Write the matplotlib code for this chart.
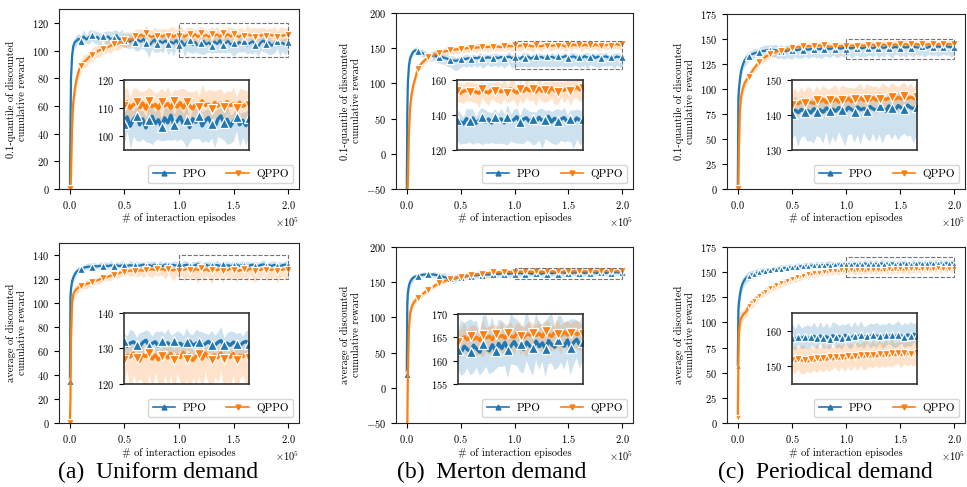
import matplotlib
matplotlib.use("Agg")
import matplotlib.pyplot as plt
from matplotlib.lines import Line2D
from matplotlib.patches import Rectangle
import numpy as np

plt.rcParams.update({
    'font.family': 'serif',
    'font.serif': ['cmr10'],
    'mathtext.fontset': 'cm',
    'axes.formatter.use_mathtext': True,
    'axes.unicode_minus': False,
})

# ---------------- data ----------------
# interaction episodes (thousands)
EPISODES_K = [0, 0.5, 1, 2, 3, 4.5, 6, 8,
              10, 12.5, 15, 17.5, 20, 22.5, 25, 27.5, 30, 32.5,
              35, 37.5, 40, 42.5, 45, 47.5, 50, 52.5, 55, 57.5,
              60, 62.5, 65, 67.5, 70, 72.5, 75, 77.5, 80, 82.5,
              85, 87.5, 90, 92.5, 95, 97.5, 100, 102.5, 105, 107.5,
              110, 112.5, 115, 117.5, 120, 122.5, 125, 127.5, 130, 132.5,
              135, 137.5, 140, 142.5, 145, 147.5, 150, 152.5, 155, 157.5,
              160, 162.5, 165, 167.5, 170, 172.5, 175, 177.5, 180, 182.5,
              185, 187.5, 190, 192.5, 195, 197.5, 200]

SERIES_NAMES = ["PPO", "QPPO"]
CAPTIONS = ["(a)  Uniform demand", "(b)  Merton demand", "(c)  Periodical demand"]
YLABELS = ["0.1-quantile of discounted\ncumulative reward",
           "average of discounted\ncumulative reward"]

# ---- (a) Uniform, 0.1-quantile ----
A_Q_PPO = [0, 45, 80, 96, 103, 106, 107, 108.5,
           106.7, 110.1, 108.0, 109.6, 111.0, 108.3, 109.9, 107.6, 110.5, 108.8,
           110.2, 107.9, 109.4, 111.1, 108.1, 109.2, 107.3, 108.9, 106.3, 108.1,
           105.9, 107.6, 106.4, 108.3, 105.2, 103.0, 105.8, 107.9, 104.6, 106.8,
           105.5, 107.2, 104.9, 106.3, 105.1, 107.4, 104.2, 106.8, 103.5, 105.9,
           107.3, 104.0, 106.1, 102.9, 105.6, 107.0, 104.4, 105.8, 103.2, 106.5,
           104.7, 107.4, 103.8, 105.3, 106.9, 104.1, 105.7, 103.0, 106.2, 104.9,
           107.1, 103.6, 105.4, 106.6, 104.3, 102.8, 105.9, 107.2, 104.5, 106.0,
           103.4, 105.2, 106.8, 104.0, 105.6, 103.7, 106.3]
A_Q_PPO_LO = [0, 5, 6, 5, 4, 4, 4, 4,
              3, 4, 3, 5, 4, 3, 5, 4, 3, 4,
              5, 4, 6, 5, 4, 6, 5, 7, 5, 6,
              6, 8, 5, 7, 6, 8, 5, 9, 6, 7,
              7, 5, 8, 6, 9, 6, 7, 5, 8, 6,
              9, 6, 7, 5, 8, 10, 6, 7, 5, 8,
              6, 9, 5, 7, 8, 6, 10, 5, 7, 6,
              8, 6, 7, 9, 5, 7, 6, 8, 6, 9,
              6, 7, 5, 8, 6, 7, 6]
A_Q_PPO_HI = [0, 5, 5, 5, 4, 4, 4, 4,
              4, 5, 3, 5, 4, 6, 4, 5, 3, 5,
              4, 6, 5, 4, 5, 6, 4, 5, 6, 4,
              5, 4, 6, 3, 5, 4, 5, 3, 6, 4,
              5, 3, 4, 6, 4, 3, 5, 4, 6, 3,
              4, 5, 3, 4, 6, 3, 4, 5, 3, 4,
              5, 3, 4, 5, 3, 4, 5, 3, 4, 5,
              3, 5, 4, 3, 5, 6, 4, 3, 4, 5,
              4, 3, 5, 4, 3, 5, 4]
A_Q_QPPO = [0, 0, 10, 45, 62, 72, 79, 85,
            89.0, 91.5, 93.0, 95.2, 97.0, 98.1, 99.3, 100.4, 100.9, 102.0,
            102.6, 103.4, 104.5, 104.3, 105.8, 106.0, 107.5, 106.8, 108.1, 107.9,
            110.8, 109.5, 111.6, 110.1, 112.4, 110.8, 109.6, 110.9, 110.2, 111.3,
            110.0, 111.6, 110.4, 112.1, 109.8, 111.5, 110.7, 112.3, 109.9, 111.2,
            112.0, 110.1, 111.8, 109.6, 112.4, 110.5, 111.3, 109.8, 112.1, 110.7,
            111.6, 109.9, 112.5, 110.3, 111.9, 110.0, 112.2, 110.8, 109.7, 111.7,
            110.4, 112.6, 110.9, 111.4, 109.5, 112.0, 110.6, 111.8, 110.2, 112.3,
            110.8, 111.5, 109.9, 112.1, 110.6, 111.3, 110.9]
A_Q_QPPO_LO = [0, 0, 8, 10, 8, 7, 6, 5,
               5, 4, 5, 4, 5, 4, 4, 5, 4, 4,
               4, 5, 4, 4, 5, 4, 5, 4, 5, 4,
               5, 4, 6, 4, 5, 4, 5, 6, 4, 5,
               4, 6, 5, 4, 7, 5, 4, 6, 5, 4,
               5, 4, 6, 5, 4, 6, 5, 4, 7, 5,
               4, 6, 5, 4, 5, 6, 4, 5, 6, 4,
               5, 4, 6, 5, 4, 5, 6, 4, 5, 4,
               6, 4, 5, 4, 6, 5, 4]
A_Q_QPPO_HI = [0, 0, 8, 10, 8, 7, 6, 5,
               4, 5, 4, 5, 4, 5, 4, 5, 4, 5,
               5, 4, 5, 6, 4, 5, 6, 4, 5, 4,
               5, 6, 4, 5, 6, 4, 5, 6, 5, 4,
               6, 4, 5, 5, 7, 4, 6, 5, 4, 6,
               5, 6, 4, 7, 5, 6, 4, 6, 5, 5,
               6, 5, 4, 6, 5, 7, 4, 5, 6, 5,
               4, 6, 5, 5, 7, 4, 6, 5, 5, 4,
               5, 6, 4, 5, 6, 5, 5]

# ---- (a) Uniform, average ----
A_A_PPO = [35, 105, 112, 118, 121, 124, 126, 127.5,
           128.5, 129.4, 129.9, 130.3, 130.0, 130.8, 130.5, 131.0, 130.6, 131.2,
           130.7, 131.4, 130.9, 131.6, 130.8, 131.3, 131.7, 130.9, 131.5, 131.1,
           131.8, 130.9, 131.4, 132.0, 131.0, 131.6, 130.8, 131.9, 131.2, 131.5,
           130.7, 132.1, 131.3, 130.9, 131.8, 131.0, 132.2, 130.6, 131.5, 131.9,
           131.1, 130.5, 131.7, 132.3, 130.8, 131.4, 131.9, 130.7, 132.0, 131.2,
           131.6, 130.8, 132.2, 131.0, 131.5, 130.6, 131.8, 132.1, 130.9, 131.4,
           131.9, 130.7, 131.3, 132.0, 131.1, 130.8, 131.7, 132.2, 131.0, 131.5,
           130.9, 131.8, 131.2, 130.6, 131.6, 132.0, 131.3]
A_A_PPO_LO = [0, 8, 6, 5, 4, 4, 3, 3,
              3, 3, 2, 3, 2, 3, 2, 3, 3, 2,
              3, 2, 3, 3, 2, 3, 2, 3, 2, 3,
              2, 3, 3, 2, 3, 2, 3, 3, 2, 3,
              3, 2, 3, 2, 3, 3, 2, 3, 2, 3,
              2, 3, 3, 2, 3, 2, 3, 2, 3, 3,
              3, 2, 3, 3, 2, 3, 2, 3, 3, 2,
              2, 3, 2, 3, 3, 2, 3, 2, 3, 3,
              3, 2, 3, 2, 3, 3, 2]
A_A_PPO_HI = [0, 6, 5, 4, 4, 3, 3, 3,
              3, 2, 3, 3, 4, 3, 2, 3, 4, 3,
              3, 4, 2, 3, 3, 4, 3, 2, 4, 3,
              4, 3, 3, 2, 4, 3, 4, 3, 2, 4,
              3, 2, 4, 3, 3, 4, 2, 3, 4, 3,
              2, 4, 3, 3, 4, 2, 3, 4, 3, 3,
              4, 3, 2, 4, 3, 3, 4, 2, 3, 4,
              3, 4, 3, 2, 4, 3, 3, 4, 2, 3,
              4, 3, 3, 4, 2, 3, 4]
A_A_QPPO = [0, 20, 70, 100, 107, 110, 111.5, 113,
            114.0, 115.0, 115.8, 116.6, 117.3, 118.2, 118.9, 119.8, 120.5, 121.3,
            122.0, 122.8, 123.6, 124.3, 125.0, 125.6, 126.2, 126.5, 127.0, 127.2,
            126.4, 126.9, 127.3, 127.0, 127.8, 127.5, 128.2, 127.6, 128.4, 127.9,
            128.3, 127.4, 128.6, 127.8, 127.1, 128.5, 126.9, 128.1, 127.6, 128.7,
            127.2, 126.5, 128.3, 127.7, 128.8, 127.0, 128.2, 126.8, 127.9, 128.5,
            127.3, 128.6, 126.7, 128.0, 127.5, 128.9, 127.1, 128.3, 126.6, 127.8,
            128.4, 127.0, 128.7, 127.6, 126.9, 128.2, 127.4, 128.8, 127.1, 128.0,
            127.5, 128.6, 126.8, 128.1, 127.7, 128.4, 127.2]
A_A_QPPO_LO = [0, 15, 20, 10, 6, 5, 4, 4,
               4, 3, 4, 3, 4, 3, 3, 4, 3, 3,
               3, 4, 3, 3, 4, 3, 4, 3, 5, 4,
               4, 5, 4, 6, 4, 5, 7, 4, 6, 5,
               5, 8, 4, 6, 9, 5, 7, 4, 10, 6,
               7, 5, 8, 11, 6, 9, 5, 7, 12, 6,
               8, 6, 10, 5, 7, 9, 6, 11, 5, 8,
               6, 9, 5, 8, 10, 6, 7, 5, 9, 7,
               8, 6, 10, 7, 5, 9, 6]
A_A_QPPO_HI = [0, 15, 10, 6, 5, 4, 4, 3,
               3, 2, 3, 2, 3, 3, 2, 3, 2, 3,
               2, 3, 3, 2, 3, 2, 3, 3, 2, 3,
               3, 2, 3, 3, 2, 3, 2, 3, 3, 2,
               3, 3, 2, 3, 2, 3, 3, 2, 3, 3,
               2, 3, 3, 2, 3, 3, 2, 3, 2, 3,
               3, 2, 3, 3, 2, 3, 3, 2, 3, 2,
               3, 3, 2, 3, 3, 2, 3, 3, 2, 3,
               2, 3, 3, 2, 3, 3, 2]

# ---- (b) Merton, 0.1-quantile ----
B_Q_PPO = [-60, 60, 100, 125, 135, 141, 145, 147,
           146.5, 144.0, 142.5, 141.0, 140.5, 139.2, 139.8, 138.5, 137.0, 137.6,
           136.2, 135.1, 133.5, 132.8, 132.2, 132.5, 134.0, 135.1, 134.6, 135.9,
           135.2, 136.4, 135.7, 137.0, 136.1, 135.4, 137.3, 136.2, 135.8, 137.1,
           136.0, 137.5, 135.6, 136.8, 138.2, 135.9, 137.4, 136.3, 134.8, 137.9,
           136.5, 138.3, 135.2, 137.0, 139.1, 136.0, 137.7, 135.4, 138.6, 136.9,
           137.8, 135.5, 138.9, 136.4, 137.2, 139.0, 135.8, 137.5, 138.4, 136.1,
           137.9, 135.6, 138.7, 136.8, 137.4, 139.2, 136.0, 138.1, 136.7, 137.6,
           138.5, 136.2, 137.9, 135.8, 138.3, 136.9, 137.5]
B_Q_PPO_LO = [0, 20, 15, 8, 6, 5, 5, 5,
              5, 6, 5, 7, 6, 8, 7, 9, 8, 10,
              9, 11, 10, 12, 14, 13, 11, 10, 12, 11,
              12, 10, 13, 11, 14, 12, 10, 13, 11, 12,
              13, 11, 14, 12, 10, 15, 12, 13, 11, 14,
              12, 15, 11, 13, 16, 12, 14, 11, 15, 13,
              14, 12, 16, 11, 13, 15, 12, 14, 13, 11,
              15, 12, 13, 16, 11, 14, 12, 15, 13, 12,
              14, 11, 13, 15, 12, 14, 13]
B_Q_PPO_HI = [0, 20, 12, 8, 6, 5, 5, 5,
              5, 4, 6, 5, 4, 6, 5, 4, 6, 5,
              4, 6, 5, 7, 5, 4, 6, 5, 7, 4,
              6, 5, 4, 7, 5, 6, 4, 5, 7, 6,
              5, 4, 6, 5, 7, 4, 6, 5, 4, 6,
              7, 5, 4, 6, 5, 7, 4, 6, 5, 4,
              6, 5, 7, 4, 6, 5, 4, 7, 5, 6,
              4, 6, 5, 7, 5, 4, 6, 5, 7, 5,
              6, 4, 5, 7, 5, 6, 4]
B_Q_QPPO = [-60, -60, -40, 30, 65, 85, 97, 108,
            120.0, 126.0, 130.5, 134.0, 136.8, 139.0, 140.8, 142.3, 143.5, 144.6,
            145.4, 146.2, 146.9, 147.5, 148.1, 148.6, 149.0, 149.5, 149.9, 150.3,
            150.6, 151.0, 150.7, 151.5, 151.2, 152.0, 151.6, 152.4, 151.9, 152.8,
            152.0, 151.5, 152.8, 152.2, 153.4, 152.6, 153.9, 152.4, 153.6, 154.2,
            152.9, 154.5, 153.1, 152.5, 154.8, 153.3, 152.7, 154.4, 153.7, 155.1,
            153.2, 154.6, 152.8, 155.0, 153.9, 152.6, 154.7, 153.4, 155.3, 153.8,
            154.9, 153.0, 155.4, 153.6, 154.3, 152.9, 155.6, 154.0, 153.3, 155.2,
            154.1, 155.7, 153.5, 154.8, 156.0, 154.4, 155.3]
B_Q_QPPO_LO = [0, 0, 10, 20, 15, 10, 8, 7,
               7, 6, 6, 5, 6, 5, 5, 6, 5, 5,
               6, 5, 5, 6, 5, 7, 5, 6, 5, 6,
               5, 6, 7, 5, 6, 5, 7, 6, 5, 6,
               6, 5, 7, 6, 5, 8, 6, 5, 7, 6,
               5, 7, 6, 8, 5, 6, 7, 5, 6, 8,
               7, 5, 6, 7, 5, 8, 6, 7, 5, 6,
               6, 8, 5, 6, 7, 5, 6, 8, 7, 5,
               7, 6, 8, 5, 6, 7, 6]
B_Q_QPPO_HI = [0, 0, 10, 20, 15, 10, 8, 7,
               6, 5, 5, 6, 4, 5, 6, 5, 4, 5,
               5, 4, 6, 5, 4, 5, 6, 4, 5, 6,
               4, 5, 6, 4, 5, 6, 4, 5, 6, 4,
               5, 6, 4, 5, 6, 4, 5, 6, 4, 5,
               6, 4, 5, 6, 4, 5, 6, 4, 5, 4,
               5, 6, 4, 5, 6, 4, 5, 4, 6, 5,
               4, 5, 6, 4, 5, 6, 4, 5, 6, 4,
               5, 4, 6, 5, 4, 5, 5]

# ---- (b) Merton, average ----
B_A_PPO = [20, 120, 135, 145, 150, 154, 156.5, 158,
           159.0, 160.2, 160.6, 161.0, 161.3, 160.8, 161.0, 160.1, 159.2, 158.3,
           157.2, 156.3, 155.5, 155.0, 155.8, 156.6, 157.4, 158.0, 158.5, 159.0,
           159.3, 159.7, 160.0, 160.4, 160.2, 160.8, 161.1, 160.7, 161.4, 161.6,
           161.8, 162.3, 161.5, 162.6, 161.9, 163.0, 162.2, 161.7, 163.1, 162.4,
           161.9, 163.3, 162.5, 161.8, 163.6, 162.7, 162.1, 163.4, 162.0, 163.7,
           162.6, 163.9, 162.3, 163.2, 164.1, 162.8, 163.5, 162.4, 164.0, 163.1,
           162.7, 164.2, 163.0, 163.8, 162.5, 164.3, 163.4, 162.9, 164.5, 163.6,
           163.1, 164.4, 162.8, 163.9, 164.6, 163.3, 164.1]
B_A_PPO_LO = [0, 30, 20, 10, 8, 6, 5, 4,
              4, 3, 4, 3, 4, 5, 4, 5, 6, 5,
              6, 7, 6, 7, 6, 5, 6, 5, 4, 5,
              4, 5, 4, 5, 4, 5, 4, 5, 4, 5,
              5, 4, 6, 4, 5, 6, 4, 5, 6, 4,
              5, 6, 4, 5, 6, 4, 5, 6, 4, 5,
              4, 5, 6, 4, 5, 4, 6, 5, 4, 5,
              6, 4, 5, 4, 6, 5, 4, 5, 6, 4,
              5, 4, 6, 5, 4, 5, 4]
B_A_PPO_HI = [0, 20, 10, 8, 6, 5, 4, 4,
              4, 3, 4, 3, 4, 3, 4, 4, 5, 5,
              6, 6, 7, 6, 5, 6, 5, 5, 4, 4,
              4, 5, 4, 5, 4, 5, 4, 5, 4, 5,
              5, 6, 4, 7, 5, 6, 4, 7, 5, 6,
              7, 5, 6, 4, 6, 7, 5, 6, 4, 5,
              6, 4, 5, 7, 5, 6, 4, 5, 7, 5,
              4, 6, 5, 4, 6, 5, 7, 4, 5, 6,
              5, 4, 6, 5, 4, 5, 6]
B_A_QPPO = [-60, -55, 20, 85, 105, 115, 120, 124,
            127.0, 130.0, 133.5, 136.8, 139.5, 142.0, 144.2, 146.5, 148.3, 150.0,
            151.4, 152.8, 154.0, 155.1, 156.2, 157.0, 157.9, 158.6, 159.3, 159.9,
            160.4, 160.9, 161.5, 161.9, 162.3, 162.8, 163.1, 163.4, 163.8, 164.0,
            164.3, 163.8, 164.6, 164.1, 164.9, 164.4, 163.9, 164.7, 165.1, 164.5,
            165.3, 164.6, 165.0, 164.3, 165.6, 164.9, 165.2, 164.5, 165.8, 165.1,
            165.4, 164.8, 165.9, 165.2, 165.0, 166.1, 165.3, 164.9, 165.7, 165.5,
            166.0, 165.4, 165.8, 165.1, 166.3, 165.6, 165.2, 166.1, 165.7, 165.4,
            166.2, 165.5, 165.9, 166.4, 165.6, 166.0, 165.8]
B_A_QPPO_LO = [0, 0, 20, 20, 12, 8, 6, 5,
               5, 4, 4, 4, 3, 3, 3, 3, 3, 3,
               3, 3, 3, 3, 3, 3, 3, 3, 3, 3,
               3, 3, 3, 3, 3, 3, 3, 3, 3, 3,
               3, 4, 3, 4, 3, 4, 3, 4, 3, 4,
               4, 3, 4, 3, 5, 3, 4, 3, 4, 3,
               4, 3, 5, 3, 4, 3, 4, 3, 5, 3,
               3, 4, 3, 4, 3, 5, 3, 4, 3, 4,
               3, 4, 3, 4, 3, 4, 3]
B_A_QPPO_HI = [0, 0, 20, 20, 12, 8, 6, 5,
               4, 4, 3, 3, 3, 3, 3, 3, 3, 3,
               3, 2, 3, 2, 3, 2, 3, 2, 3, 2,
               2, 3, 2, 3, 2, 3, 2, 3, 2, 3,
               2, 2, 3, 2, 2, 3, 2, 2, 3, 2,
               2, 3, 2, 2, 3, 2, 2, 3, 2, 2,
               3, 2, 2, 3, 2, 2, 3, 2, 2, 3,
               2, 2, 3, 2, 2, 3, 2, 2, 3, 2,
               2, 3, 2, 2, 3, 2, 2]

# ---- (c) Periodical, 0.1-quantile ----
C_Q_PPO = [0, 90, 100, 110, 118, 124, 128, 131,
           133.0, 134.5, 135.6, 136.4, 137.1, 137.8, 138.2, 138.9, 138.5, 139.1,
           138.6, 137.9, 138.4, 137.6, 138.2, 139.0, 138.5, 139.3, 138.8, 139.6,
           139.1, 139.8, 139.3, 140.0, 139.5, 140.2, 139.7, 140.4, 139.9, 140.6,
           140.1, 140.8, 140.3, 141.0, 140.5, 141.2, 140.4, 141.4, 140.7, 141.6,
           140.9, 141.3, 140.6, 141.8, 141.0, 141.5, 140.8, 142.0, 141.2, 141.7,
           141.1, 142.1, 141.4, 140.9, 142.2, 141.6, 141.0, 142.3, 141.5, 141.9,
           141.2, 142.4, 141.7, 141.3, 142.5, 141.8, 141.1, 142.6, 141.9, 141.5,
           142.7, 142.0, 141.6, 142.8, 142.1, 141.8, 142.4]
C_Q_PPO_LO = [0, 10, 10, 8, 7, 6, 6, 6,
              5, 5, 5, 6, 5, 6, 6, 7, 6, 7,
              7, 8, 7, 8, 7, 8, 9, 7, 8, 9,
              8, 7, 9, 8, 7, 9, 8, 10, 7, 8,
              9, 7, 8, 10, 7, 9, 8, 7, 10, 8,
              7, 9, 8, 10, 7, 8, 9, 7, 10, 8,
              9, 7, 8, 10, 8, 7, 9, 8, 10, 7,
              8, 10, 7, 9, 8, 10, 7, 8, 9, 7,
              10, 8, 7, 9, 8, 10, 8]
C_Q_PPO_HI = [0, 8, 8, 6, 5, 5, 5, 5,
              5, 4, 5, 4, 5, 5, 6, 5, 6, 5,
              6, 5, 6, 5, 6, 5, 6, 5, 5, 4,
              5, 4, 4, 3, 4, 3, 4, 3, 4, 3,
              3, 4, 3, 3, 4, 3, 3, 4, 3, 3,
              4, 3, 3, 4, 3, 3, 4, 3, 3, 4,
              3, 3, 4, 3, 3, 4, 3, 3, 4, 3,
              3, 4, 3, 3, 4, 3, 3, 4, 3, 3,
              4, 3, 3, 4, 3, 3, 4]
C_Q_QPPO = [0, 0, 40, 80, 92, 100, 105, 109,
            112.0, 116.5, 120.5, 124.0, 127.0, 129.5, 131.6, 133.4, 135.0, 136.2,
            137.0, 137.8, 138.4, 139.1, 139.6, 140.3, 140.9, 141.2, 141.8, 142.1,
            142.5, 142.2, 143.0, 142.7, 143.4, 143.0, 143.7, 143.3, 143.9, 143.5,
            142.1, 142.5, 142.8, 143.1, 142.7, 143.4, 143.0, 143.7, 143.2, 143.9,
            143.4, 144.1, 143.6, 143.3, 144.3, 143.8, 144.5, 143.5, 144.2, 143.9,
            144.6, 143.7, 144.4, 144.0, 144.8, 143.8, 144.5, 144.2, 144.9, 144.1,
            144.7, 144.3, 145.0, 144.2, 144.6, 145.1, 144.4, 144.8, 145.2, 144.5,
            145.0, 144.6, 145.3, 144.8, 145.1, 144.7, 145.2]
C_Q_QPPO_LO = [0, 0, 15, 12, 8, 6, 5, 5,
               4, 4, 4, 4, 4, 4, 4, 4, 4, 4,
               4, 3, 4, 3, 4, 3, 4, 3, 4, 3,
               3, 4, 3, 4, 3, 4, 3, 4, 3, 4,
               4, 3, 4, 3, 4, 3, 4, 3, 4, 3,
               3, 4, 3, 4, 3, 4, 3, 4, 3, 4,
               4, 3, 4, 3, 4, 3, 4, 3, 4, 3,
               3, 4, 3, 4, 3, 4, 3, 4, 3, 4,
               4, 3, 4, 3, 4, 3, 4]
C_Q_QPPO_HI = [0, 0, 15, 12, 8, 6, 5, 5,
               4, 4, 4, 4, 4, 3, 3, 3, 3, 3,
               3, 3, 3, 3, 3, 3, 3, 3, 3, 3,
               3, 4, 3, 4, 3, 3, 4, 3, 4, 3,
               4, 3, 4, 3, 4, 4, 3, 4, 3, 4,
               3, 4, 4, 3, 4, 3, 4, 4, 3, 4,
               4, 3, 4, 4, 3, 4, 3, 4, 4, 3,
               4, 4, 3, 4, 3, 4, 4, 3, 4, 4,
               3, 4, 4, 3, 4, 3, 4]

# ---- (c) Periodical, average ----
C_A_PPO = [57, 112, 120, 128, 134, 139, 142, 144.5,
           146.0, 147.5, 148.4, 149.2, 150.0, 150.6, 151.1, 151.6, 152.0, 152.5,
           152.8, 153.2, 153.6, 153.9, 154.3, 154.5, 154.9, 155.1, 155.4, 155.6,
           155.9, 156.1, 156.4, 156.2, 156.7, 156.5, 157.0, 156.8, 157.2, 157.0,
           157.4, 157.1, 157.6, 157.3, 157.8, 157.5, 158.0, 157.6, 158.2, 157.8,
           158.3, 157.7, 158.1, 158.4, 157.9, 158.5, 158.0, 158.3, 157.8, 158.6,
           158.1, 158.4, 157.9, 158.7, 158.2, 158.0, 158.6, 158.3, 158.8, 158.1,
           158.5, 158.2, 158.9, 158.3, 158.6, 158.0, 158.8, 158.4, 158.7, 158.2,
           158.9, 158.5, 158.3, 158.8, 158.6, 159.0, 158.5]
C_A_PPO_LO = [0, 20, 15, 10, 8, 6, 5, 5,
              5, 5, 4, 4, 4, 4, 4, 3, 3, 3,
              3, 3, 3, 3, 3, 3, 3, 3, 3, 3,
              3, 3, 2, 3, 3, 3, 2, 3, 3, 3,
              3, 2, 3, 3, 3, 2, 3, 3, 2, 3,
              3, 3, 2, 3, 3, 2, 3, 3, 3, 2,
              3, 3, 3, 2, 3, 3, 2, 3, 3, 3,
              2, 3, 3, 3, 2, 3, 3, 2, 3, 3,
              3, 2, 3, 3, 3, 2, 3]
C_A_PPO_HI = [0, 15, 10, 8, 6, 5, 5, 5,
              5, 4, 4, 4, 4, 4, 3, 3, 3, 3,
              3, 3, 4, 3, 3, 4, 3, 3, 4, 3,
              3, 4, 3, 4, 3, 4, 3, 4, 3, 4,
              4, 3, 4, 3, 4, 3, 4, 3, 4, 3,
              3, 4, 3, 4, 3, 4, 3, 4, 3, 4,
              4, 3, 4, 3, 4, 3, 4, 3, 4, 3,
              3, 4, 3, 4, 3, 4, 3, 4, 3, 4,
              4, 3, 4, 3, 4, 3, 4]
C_A_QPPO = [5, 60, 90, 100, 104, 107, 109, 111,
            116.0, 119.0, 121.8, 124.3, 126.6, 128.7, 130.6, 132.3, 133.9, 135.4,
            136.8, 138.1, 139.3, 140.4, 141.4, 142.4, 143.3, 144.2, 145.0, 145.8,
            146.5, 147.2, 147.8, 148.3, 148.8, 149.2, 149.6, 150.0, 150.3, 150.6,
            150.9, 151.1, 151.4, 151.2, 151.7, 151.5, 151.9, 151.6, 152.1, 151.8,
            151.8, 151.5, 152.0, 151.7, 152.2, 151.9, 152.3, 152.0, 152.5, 152.1,
            152.6, 152.3, 152.7, 152.4, 152.9, 152.5, 153.0, 152.6, 153.1, 152.8,
            153.2, 152.9, 153.3, 153.0, 153.4, 153.1, 153.5, 153.2, 153.6, 153.3,
            153.7, 153.4, 153.6, 153.8, 153.5, 153.9, 153.6]
C_A_QPPO_LO = [0, 30, 20, 12, 8, 6, 5, 5,
               5, 5, 5, 4, 4, 4, 4, 4, 4, 4,
               4, 4, 4, 4, 4, 4, 4, 4, 4, 4,
               4, 3, 4, 3, 4, 4, 3, 4, 3, 4,
               3, 4, 3, 4, 3, 4, 3, 4, 3, 4,
               4, 3, 4, 3, 4, 3, 4, 3, 4, 3,
               3, 4, 3, 4, 3, 4, 3, 4, 3, 4,
               4, 3, 4, 3, 4, 3, 4, 3, 4, 3,
               3, 4, 3, 4, 3, 4, 3]
C_A_QPPO_HI = [0, 20, 15, 10, 7, 6, 5, 5,
               5, 5, 4, 4, 4, 4, 4, 4, 4, 4,
               3, 4, 3, 4, 3, 4, 3, 4, 3, 4,
               4, 3, 4, 3, 4, 3, 4, 3, 4, 3,
               3, 4, 3, 4, 3, 4, 3, 4, 3, 4,
               4, 3, 4, 3, 4, 3, 4, 3, 4, 3,
               3, 4, 3, 4, 3, 4, 3, 4, 3, 4,
               4, 3, 4, 3, 4, 3, 4, 3, 4, 3,
               3, 4, 3, 4, 3, 4, 3]

# axis ranges / zoom windows
MAIN_YLIM = [[(0, 130), (-50, 200), (0, 175)],
             [(0, 150), (-50, 200), (0, 175)]]
MAIN_YTICKS = [[range(0, 121, 20), range(-50, 201, 50), range(0, 176, 25)],
               [range(0, 141, 20), range(-50, 201, 50), range(0, 176, 25)]]
ZOOM_X = (100000, 200000)
ZOOM_Y = [[(95, 120), (120, 160), (130, 150)],
          [(120, 140), (155, 170), (145, 165)]]
ZOOM_YTICKS = [[[100, 110, 120], [120, 140, 160], [130, 140, 150]],
               [[120, 130, 140], [155, 160, 165, 170], [150, 160]]]

PANEL_DATA = [
    [((A_Q_PPO, A_Q_PPO_LO, A_Q_PPO_HI), (A_Q_QPPO, A_Q_QPPO_LO, A_Q_QPPO_HI)),
     ((B_Q_PPO, B_Q_PPO_LO, B_Q_PPO_HI), (B_Q_QPPO, B_Q_QPPO_LO, B_Q_QPPO_HI)),
     ((C_Q_PPO, C_Q_PPO_LO, C_Q_PPO_HI), (C_Q_QPPO, C_Q_QPPO_LO, C_Q_QPPO_HI))],
    [((A_A_PPO, A_A_PPO_LO, A_A_PPO_HI), (A_A_QPPO, A_A_QPPO_LO, A_A_QPPO_HI)),
     ((B_A_PPO, B_A_PPO_LO, B_A_PPO_HI), (B_A_QPPO, B_A_QPPO_LO, B_A_QPPO_HI)),
     ((C_A_PPO, C_A_PPO_LO, C_A_PPO_HI), (C_A_QPPO, C_A_QPPO_LO, C_A_QPPO_HI))],
]

# ---------------- layout / style ----------------
W, H = 967, 487
COLORS = ['#1f77b4', '#ff7f0e']
MARKERS = ['^', 'v']
FS = 7.5

MAIN_BOX = [[(59, 9, 299, 189), (396, 13, 633, 189), (727, 14, 965, 189)],
            [(59, 243, 299, 423), (396, 247, 633, 423), (727, 247, 965, 423)]]
INSET_BOX = [[(124, 80, 249, 150), (457, 80, 583, 150), (792, 80, 917, 150)],
             [(124, 313, 249, 384), (458, 314, 583, 384), (792, 313, 917, 384)]]
CAPTION_X = [158, 492, 825]
CAPTION_Y = 472


def px(box):
    l, t, r, b = box
    return [l / W, 1 - b / H, (r - l) / W, (b - t) / H]


x = np.array(EPISODES_K, dtype=float) * 1000.0


def draw_series(ax, pair, mark_idx, lw, ms):
    for k, (y, lo, hi) in enumerate(pair):
        n = min(len(x), len(y), len(lo), len(hi))
        yy = np.array(y[:n], dtype=float)
        lower = yy - np.array(lo[:n], dtype=float)
        upper = yy + np.array(hi[:n], dtype=float)
        ax.fill_between(x[:n], lower, upper, color=COLORS[k], alpha=0.22, lw=0)
        ax.plot(x[:n], yy, color=COLORS[k], lw=lw, marker=MARKERS[k],
                markevery=[i for i in mark_idx if i < n], ms=ms,
                mfc=COLORS[k], mec='white', mew=0.9)


fig = plt.figure(figsize=(W / 100, H / 100), dpi=100)

for r in range(2):
    for c in range(3):
        ax = fig.add_axes(px(MAIN_BOX[r][c]))
        dense = (r == 1 and c == 2)
        step = 2 if dense else 4
        mark_idx = [0] + list(range(8, len(x), step))
        draw_series(ax, PANEL_DATA[r][c], mark_idx, lw=1.6, ms=4.8 if dense else 5.5)
        ax.set_xlim(-10000, 210000)
        ax.set_ylim(*MAIN_YLIM[r][c])
        ax.set_yticks(list(MAIN_YTICKS[r][c]))
        ax.set_xticks([0, 50000, 100000, 150000, 200000])
        ax.ticklabel_format(axis='x', style='sci', scilimits=(0, 0), useMathText=True)
        ax.xaxis.get_offset_text().set_fontsize(FS)
        ax.tick_params(labelsize=FS, length=3.5, width=0.8)
        ax.set_xlabel('# of interaction episodes', fontsize=FS, labelpad=2)
        ax.set_ylabel(YLABELS[r], fontsize=FS, labelpad=4)
        for s in ax.spines.values():
            s.set_linewidth(0.8)
            s.set_color('0.15')
        zy = ZOOM_Y[r][c]
        ax.add_patch(Rectangle((ZOOM_X[0], zy[0]), ZOOM_X[1] - ZOOM_X[0], zy[1] - zy[0],
                               fill=False, ls='--', lw=0.8, ec='0.45', zorder=5))
        handles = [Line2D([], [], color=COLORS[k], lw=1.2, marker=MARKERS[k], ms=3.5,
                          mfc=COLORS[k], mec=COLORS[k]) for k in range(2)]
        ax.legend(handles, SERIES_NAMES, loc='lower right', ncol=2, fontsize=FS + 0.5,
                  handlelength=2.0, columnspacing=1.8, handletextpad=0.7, borderpad=0.4,
                  frameon=True, fancybox=True, edgecolor='0.8')
        # inset
        ins = fig.add_axes(px(INSET_BOX[r][c]))
        draw_series(ins, PANEL_DATA[r][c], mark_idx, lw=2.4, ms=6.0 if dense else 6.5)
        ins.set_xlim(*ZOOM_X)
        ins.set_ylim(*zy)
        ins.set_xticks([])
        ins.set_yticks(ZOOM_YTICKS[r][c])
        ins.tick_params(labelsize=FS, length=3.5, width=0.8)
        for s in ins.spines.values():
            s.set_linewidth(1.2)
            s.set_color('0.2')

for c in range(3):
    fig.text(CAPTION_X[c] / W, 1 - CAPTION_Y / H, CAPTIONS[c], ha='center', va='center',
             fontsize=17, family='Liberation Serif')

fig.savefig('out.png', dpi=100)
